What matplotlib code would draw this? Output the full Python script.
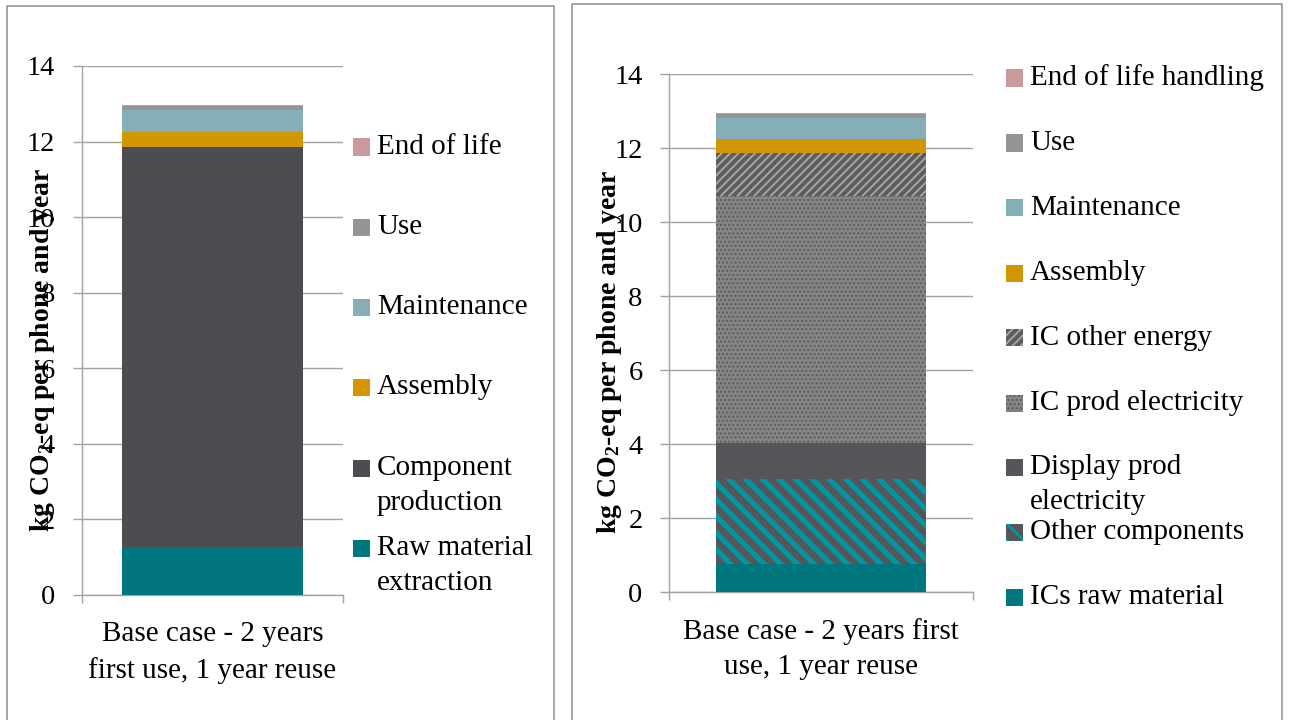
import matplotlib
matplotlib.use("Agg")
import matplotlib.pyplot as plt
from matplotlib.patches import Rectangle

plt.rcParams["font.family"] = ["Liberation Serif", "DejaVu Serif"]
plt.rcParams["mathtext.fontset"] = "custom"
plt.rcParams["mathtext.rm"] = "Liberation Serif:bold"
plt.rcParams["mathtext.bf"] = "Liberation Serif:bold"
plt.rcParams["mathtext.default"] = "rm"

W, H = 1289, 720

# life-cycle stages, bottom to top
stages = ["Raw material\nextraction", "Component\nproduction", "Assembly",
          "Maintenance", "Use", "End of life"]
stage_values = [1.27, 10.58, 0.40, 0.58, 0.12, 0.02]

# same total, production split into its main contributors
details = ["ICs raw material", "Other components", "Display prod\nelectricity",
           "IC prod electricity", "IC other energy", "Assembly", "Maintenance",
           "Use", "End of life handling"]
detail_values = [0.76, 2.29, 0.97, 6.67, 1.17, 0.38, 0.57, 0.11, 0.02]

case_left = "Base case - 2 years\nfirst use, 1 year reuse"
case_right = "Base case - 2 years first\nuse, 1 year reuse"
yticks = [0, 2, 4, 6, 8, 10, 12, 14]

TEAL = "#00777F"
DARK = "#4C4D51"
# name -> (face, hatch, hatch colour, hatch width)
STYLE = {
    "Raw material\nextraction": (TEAL, None, TEAL, 1.0),
    "Component\nproduction": (DARK, None, DARK, 1.0),
    "Assembly": ("#D49600", None, "#D49600", 1.0),
    "Maintenance": ("#84AFB6", None, "#84AFB6", 1.0),
    "Use": ("#959595", None, "#959595", 1.0),
    "End of life": ("#C99A99", None, "#C99A99", 1.0),
    "End of life handling": ("#C99A99", None, "#C99A99", 1.0),
    "ICs raw material": (TEAL, None, TEAL, 1.0),
    "Other components": ("#55565A", "\\\\", "#0097A3", 3.8),
    "Display prod\nelectricity": ("#55565A", None, "#55565A", 1.0),
    "IC prod electricity": ("#858585", "....", "#5C5C5C", 1.0),
    "IC other energy": ("#5C5C5C", "////", "#A5A5A5", 1.4),
}
GRID = "#A3A3A3"


def fx(px):
    return px / W


def fy(py):
    return 1 - py / H


def stacked_bar(ax, names, values, width):
    bars = []
    bottom = 0.0
    for name, val in zip(names, values):
        face, hatch, hc, hw = STYLE[name]
        with plt.rc_context({"hatch.linewidth": hw}):
            b = ax.bar(0, val, width=width, bottom=bottom, color=face,
                       hatch=hatch, edgecolor=hc, linewidth=0, zorder=3)[0]
        bars.append(b)
        bottom += val
    return bars


def style_axes(ax, label, ylab_x, pad):
    ax.set_xlim(-0.5, 0.5)
    ax.set_ylim(0, 14)
    ax.set_yticks(yticks)
    ax.grid(axis="y", color=GRID, linewidth=1.0, zorder=0)
    for s in ("top", "right"):
        ax.spines[s].set_visible(False)
    for s in ("left", "bottom"):
        ax.spines[s].set_color(GRID)
        ax.spines[s].set_linewidth(1.0)
    ax.tick_params(axis="y", length=6.5, color=GRID, width=1.0,
                   labelsize=20.5, pad=pad)
    ax.set_xticks([0])
    ax.set_xticklabels([label], fontsize=21, linespacing=1.45)
    ax.tick_params(axis="x", which="major", length=0, pad=19)
    ax.set_xticks([-0.5, 0.5], minor=True)
    ax.tick_params(axis="x", which="minor", length=6, color=GRID, width=1.0)
    ax.set_ylabel("kg CO$_2$-eq per phone and year", fontsize=20,
                  fontweight="bold", va="center")
    ax.yaxis.set_label_coords(ylab_x, 0.463)


def draw_legend(fig, bars, names, sq_x, text_x, ys):
    for b, name, yc in zip(bars, names, ys):
        face, hatch, hc, hw = STYLE[name]
        with plt.rc_context({"hatch.linewidth": min(hw, 2.0)}):
            sq = Rectangle((fx(sq_x), fy(yc + 8.5)), fx(17), 17 / H,
                           transform=fig.transFigure, facecolor=face,
                           hatch=hatch, edgecolor=hc, linewidth=0)
        fig.patches.append(sq)
        for i, line in enumerate(name.split("\n")):
            fig.text(fx(text_x), fy(yc + 7 + i * 35), line, fontsize=21,
                     va="baseline", ha="left")


def main():
    fig = plt.figure(figsize=(W / 100, H / 100), dpi=100)

    # panel frames
    for x0, x1, top in ((7, 554, 6), (572, 1282, 4)):
        fig.patches.append(Rectangle((fx(x0), -0.05), fx(x1 - x0), fy(top) + 0.05,
                                     transform=fig.transFigure, fill=False,
                                     edgecolor="#8E8E8E", linewidth=1.1))

    ax1 = fig.add_axes([fx(82), fy(595), fx(261), (595 - 66) / H])
    ax2 = fig.add_axes([fx(669), fy(592), fx(304), (592 - 74) / H])

    bars1 = stacked_bar(ax1, stages, stage_values, 0.69)
    bars2 = stacked_bar(ax2, details, detail_values, 0.693)

    style_axes(ax1, case_left, -0.153, 13.0)
    style_axes(ax2, case_right, -0.195, 12.5)

    draw_legend(fig, bars1[::-1], stages[::-1], 353, 377,
                [147, 227, 307, 387, 468, 548])
    draw_legend(fig, bars2[::-1], details[::-1], 1006, 1030,
                [78, 143, 208, 273, 338, 403, 467, 532, 597])

    fig.savefig("out.png", dpi=100)


if __name__ == "__main__":
    main()
